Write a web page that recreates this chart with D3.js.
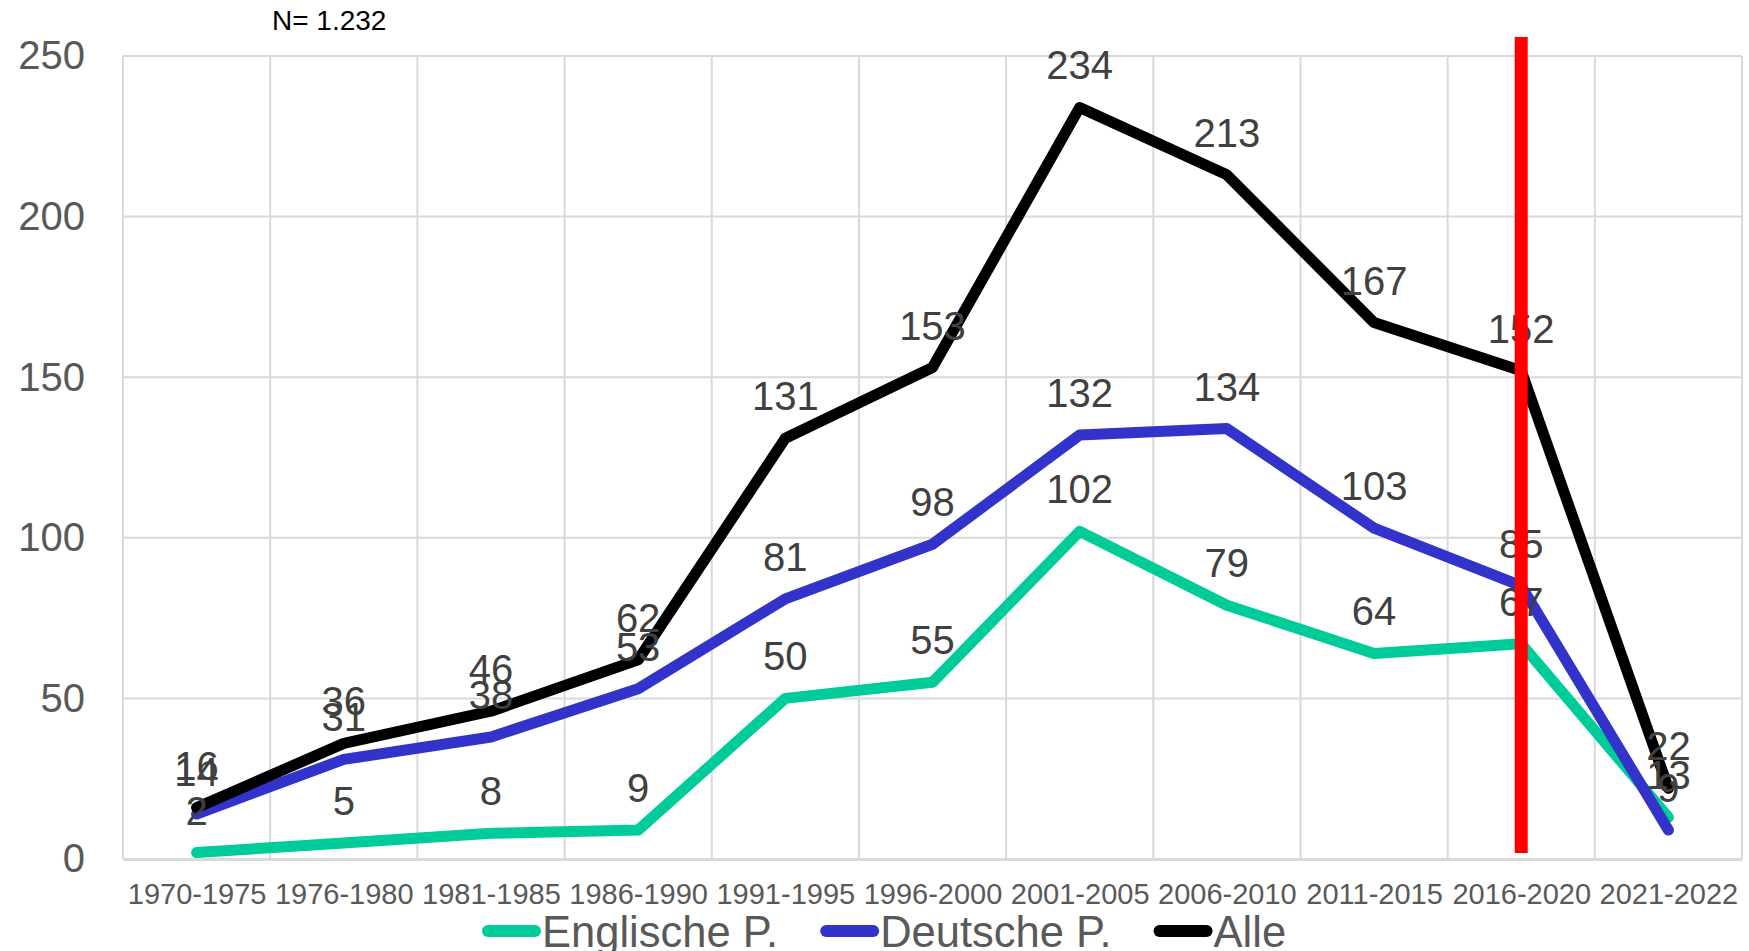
<!DOCTYPE html>
<html>
<head>
<meta charset="utf-8">
<script src="https://cdn.jsdelivr.net/npm/d3@7"></script>
<style>
  html, body { margin: 0; padding: 0; background: #fff; }
  svg { display: block; font-family: "Liberation Sans", Arial, sans-serif; }
</style>
</head>
<body>
<div id="chart"></div>
<script>
// Daten
const categories = ['1970-1975', '1976-1980', '1981-1985', '1986-1990', '1991-1995',
  '1996-2000', '2001-2005', '2006-2010', '2011-2015', '2016-2020', '2021-2022'];
const englische = [2, 5, 8, 9, 50, 55, 102, 79, 64, 67, 13];
const deutsche = [14, 31, 38, 53, 81, 98, 132, 134, 103, 85, 9];
const alle = [16, 36, 46, 62, 131, 153, 234, 213, 167, 152, 22];
const yTicks = [0, 50, 100, 150, 200, 250];
const markerCategory = '2016-2020';
const nLabel = 'N= 1.232';

const series = [
  { name: 'Englische P.', values: englische, color: '#00CC99' },
  { name: 'Deutsche P.', values: deutsche, color: '#3333CC' },
  { name: 'Alle', values: alle, color: '#000000' }
];

const width = 1749, height = 951;
const plot = { left: 123, right: 1742, top: 56, bottom: 859 };

const svg = d3.select('#chart').append('svg')
  .attr('width', width)
  .attr('height', height);

const x = d3.scalePoint()
  .domain(categories)
  .range([plot.left, plot.right])
  .padding(0.5);
const band = x.step();

const y = d3.scaleLinear()
  .domain([0, 250])
  .range([plot.bottom, plot.top]);

// Gitter
const grid = svg.append('g').attr('class', 'grid');
grid.selectAll('line.h')
  .data(yTicks)
  .join('line')
  .attr('x1', plot.left).attr('x2', plot.right)
  .attr('y1', d => y(d)).attr('y2', d => y(d))
  .attr('stroke', '#d9d9d9')
  .attr('stroke-width', 2);

grid.selectAll('line.v')
  .data(d3.range(categories.length + 1))
  .join('line')
  .attr('x1', i => plot.left + i * band).attr('x2', i => plot.left + i * band)
  .attr('y1', plot.top).attr('y2', plot.bottom)
  .attr('stroke', '#d9d9d9')
  .attr('stroke-width', 2);

// Achsen
const yAxis = svg.append('g')
  .attr('transform', `translate(${plot.left - 38},0)`)
  .call(d3.axisLeft(y).tickValues(yTicks).tickSize(0).tickPadding(0));
yAxis.select('.domain').remove();
yAxis.selectAll('text')
  .attr('font-size', '40px')
  .attr('fill', '#595959')
  .attr('font-family', '"Liberation Sans", Arial, sans-serif');

const xAxis = svg.append('g')
  .attr('transform', `translate(0,${plot.bottom})`)
  .call(d3.axisBottom(x).tickSize(0).tickPadding(24));
xAxis.select('.domain')
  .attr('stroke', '#d9d9d9')
  .attr('stroke-width', 3);
xAxis.selectAll('text')
  .attr('font-size', '29px')
  .attr('fill', '#595959')
  .attr('font-family', '"Liberation Sans", Arial, sans-serif');

// Linien
const line = d3.line()
  .x((d, i) => x(categories[i]))
  .y(d => y(d));

svg.append('g').selectAll('path')
  .data(series)
  .join('path')
  .attr('d', s => line(s.values))
  .attr('fill', 'none')
  .attr('stroke', s => s.color)
  .attr('stroke-width', 11)
  .attr('stroke-linejoin', 'round')
  .attr('stroke-linecap', 'round');

// Datenbeschriftungen
series.forEach(s => {
  svg.append('g').selectAll('text')
    .data(s.values)
    .join('text')
    .attr('x', (d, i) => x(categories[i]))
    .attr('y', d => y(d) - 28)
    .attr('text-anchor', 'middle')
    .attr('font-size', '40px')
    .attr('fill', '#404040')
    .text(d => d);
});

// Rote Markierung
svg.append('line')
  .attr('x1', x(markerCategory)).attr('x2', x(markerCategory))
  .attr('y1', 37).attr('y2', plot.bottom - 6)
  .attr('stroke', '#FF0000')
  .attr('stroke-width', 13);

// N
svg.append('text')
  .attr('x', 272)
  .attr('y', 30)
  .attr('font-size', '28px')
  .attr('fill', '#000')
  .text(nLabel);

// Legende
const legend = svg.append('g').attr('transform', 'translate(482,931)');
let lx = 0;
series.forEach(s => {
  const g = legend.append('g').attr('transform', `translate(${lx},0)`);
  g.append('line')
    .attr('x1', 6).attr('x2', 53)
    .attr('y1', 0).attr('y2', 0)
    .attr('stroke', s.color)
    .attr('stroke-width', 12)
    .attr('stroke-linecap', 'round');
  const t = g.append('text')
    .attr('x', 60)
    .attr('y', 16)
    .attr('font-size', '43.5px')
    .attr('fill', '#595959')
    .text(s.name);
  lx += 60 + t.node().getComputedTextLength() + 42;
});
</script>
</body>
</html>
